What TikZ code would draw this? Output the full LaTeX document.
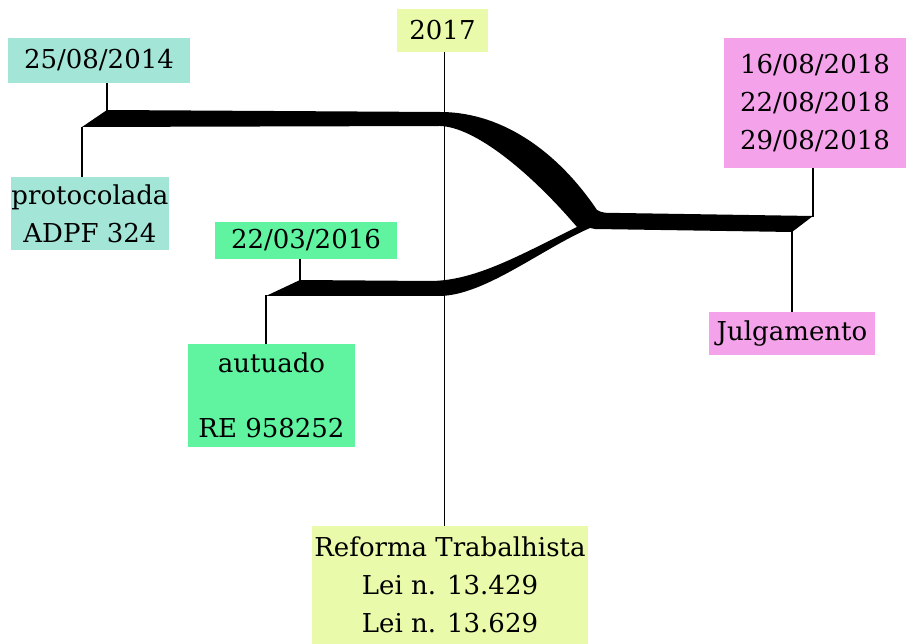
\documentclass[tikz,border=0pt]{standalone}
\usepackage{fontspec}
\setmainfont{DejaVu Serif}
\definecolor{cteal}{RGB}{163,230,215}
\definecolor{cmint}{RGB}{96,244,160}
\definecolor{cyell}{RGB}{233,251,170}
\definecolor{cpink}{RGB}{244,162,234}
\tikzset{
	tbox/.style={inner sep=0pt,align=center,font=\fontsize{26}{38}\selectfont},
	tick/.style={line width=1.8pt},
}
\begin{document}
\begin{tikzpicture}[x=1pt,y=-1pt]
			\useasboundingbox (0,0) rectangle (906,644);
			% flow ribbons
			\fill (107,110) -- (440,112) .. controls (505,112) and (560,155) .. (597,210)
				.. controls (603,213) .. (620,213) -- (813,216) -- (792,232) -- (595,229) -- (590,228)
				.. controls (540,250) and (485,295) .. (440,296) -- (266,296) -- (300,280) -- (430,281)
				.. controls (475,281) and (520,255) .. (577,227)
				.. controls (530,172) and (475,127) .. (440,126) -- (82,127) -- cycle;
			\coordinate (A1) at (107,111);
			\coordinate (A2) at (82,127);
			\coordinate (B1) at (300,281);
			\coordinate (B2) at (266,295);
			\coordinate (C1) at (813,217);
			\coordinate (C2) at (792,231);
			\node[tbox,fill=cteal,minimum width=182,minimum height=45] (d14) at (99,60.5) {25/08/2014};
			\node[tbox,fill=cteal,minimum width=154,minimum height=73] (prot) at (90,213.5) {protocolada\\ADPF 324};
			\node[tbox,fill=cmint,minimum width=182,minimum height=37] (d16) at (306,240.5) {22/03/2016};
			\node[tbox,fill=cmint,minimum width=167,minimum height=103] (aut) at (271.5,395.5) {autuado\\[27pt]RE 958252};
			\node[tbox,fill=cyell,minimum width=91,minimum height=43] (y17) at (442.5,30.5) {2017};
			\node[tbox,fill=cyell,minimum width=276,minimum height=118] (ref) at (450,585) {Reforma Trabalhista\\Lei n. 13.429\\Lei n. 13.629};
			\node[tbox,fill=cpink,minimum width=182,minimum height=130] (d18) at (815,103) {16/08/2018\\22/08/2018\\29/08/2018};
			\node[tbox,fill=cpink,minimum width=166,minimum height=43] (julg) at (792,333.5) {Julgamento};
			\draw[tick] (d14.south -| A1) -- (A1);
			\draw[tick] (prot.north -| A2) -- (A2);
			\draw[tick] (d16.south -| B1) -- (B1);
			\draw[tick] (aut.north -| B2) -- (B2);
			\draw[tick] (d18.south -| C1) -- (C1);
			\draw[tick] (julg.north -| C2) -- (C2);
			\draw[line width=1pt] (y17.south -| 444,0) -- (ref.north -| 444,0);
		\end{tikzpicture}
\end{document}
